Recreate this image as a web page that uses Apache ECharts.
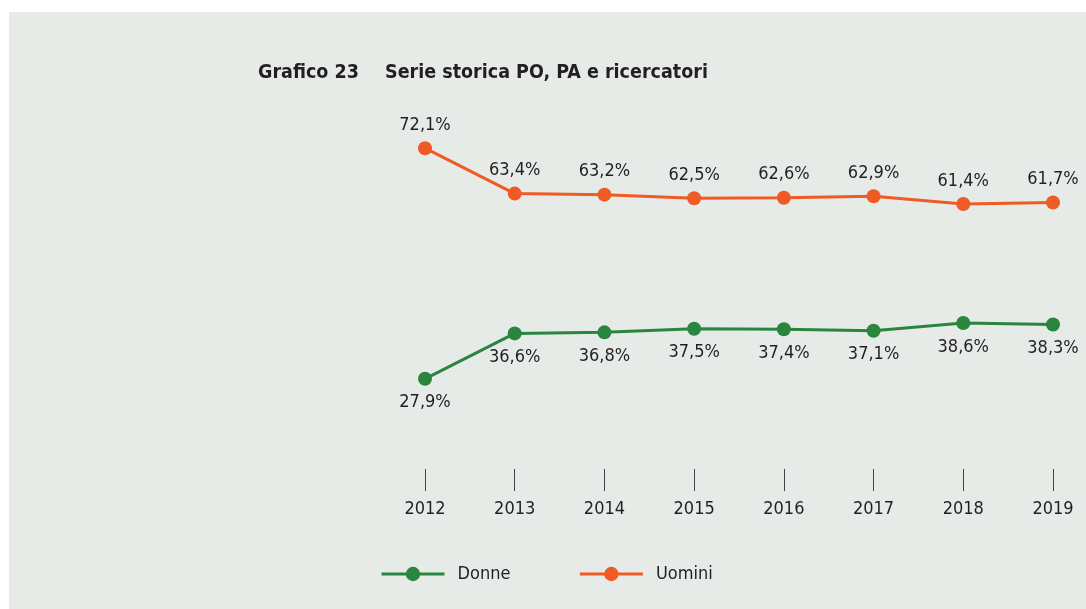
<!DOCTYPE html>
<html>
<head>
<meta charset="utf-8">
<script src="https://cdn.jsdelivr.net/npm/echarts@6/dist/echarts.min.js"></script>
<style>
  html, body { margin: 0; padding: 0; background: #fff; }
  #chart { width: 1086px; height: 609px; }
</style>
</head>
<body>
<div id="chart"></div>
<script>
var anni = ['2012', '2013', '2014', '2015', '2016', '2017', '2018', '2019'];
var donne = [27.9, 36.6, 36.8, 37.5, 37.4, 37.1, 38.6, 38.3];
var uomini = [72.1, 63.4, 63.2, 62.5, 62.6, 62.9, 61.4, 61.7];

var font = '"Liberation Sans Narrow", "DejaVu Sans Condensed", sans-serif';

function perc(p) {
  return p.value.toFixed(1).replace('.', ',') + '%';
}

var myChart = echarts.init(document.getElementById('chart'));
var option = {
  backgroundColor: '#fff',
  animation: false,
  textStyle: { fontFamily: font },
  graphic: [{
    type: 'rect',
    z: -10,
    shape: { x: 9, y: 12, width: 1077, height: 597 },
    style: { fill: '#e7ebe8' }
  }],
  title: {
    left: 253,
    top: 58,
    text: '{a|Grafico 23}{b|Serie storica PO, PA e ricercatori}',
    textStyle: {
      rich: {
        a: { fontFamily: font, fontWeight: 'bold', fontSize: 19.5, color: '#231f20', width: 127 },
        b: { fontFamily: font, fontWeight: 'bold', fontSize: 19.5, color: '#231f20' }
      }
    }
  },
  legend: {
    left: 380,
    top: 565,
    padding: 0,
    itemWidth: 63,
    itemHeight: 18,
    itemGap: 68,
    lineStyle: { width: 3 },
    textStyle: { fontFamily: font, fontSize: 18, color: '#231f20', padding: [0, 0, 0, 8] },
    data: ['Donne', 'Uomini']
  },
  grid: { left: 425, right: 33, top: 107, bottom: 189 },
  xAxis: {
    type: 'category',
    boundaryGap: false,
    data: anni,
    offset: 49,
    axisLine: { show: false },
    axisTick: { show: true, length: 22, lineStyle: { color: '#444', width: 1 } },
    axisLabel: { margin: 31, fontFamily: font, fontSize: 18, color: '#231f20' }
  },
  yAxis: {
    type: 'value',
    min: 20,
    max: 80,
    show: false,
    splitLine: { show: false }
  },
  series: [
    {
      name: 'Donne',
      type: 'line',
      data: donne,
      symbol: 'circle',
      symbolSize: 14,
      color: '#2a853f',
      lineStyle: { width: 3 },
      label: {
        show: true,
        position: 'bottom',
        distance: 8,
        formatter: perc,
        fontFamily: font,
        fontSize: 18,
        color: '#231f20'
      }
    },
    {
      name: 'Uomini',
      type: 'line',
      data: uomini,
      symbol: 'circle',
      symbolSize: 14,
      color: '#f05a24',
      lineStyle: { width: 3 },
      label: {
        show: true,
        position: 'top',
        distance: 7,
        formatter: perc,
        fontFamily: font,
        fontSize: 18,
        color: '#231f20'
      }
    }
  ]
};
myChart.setOption(option);
</script>
</body>
</html>
